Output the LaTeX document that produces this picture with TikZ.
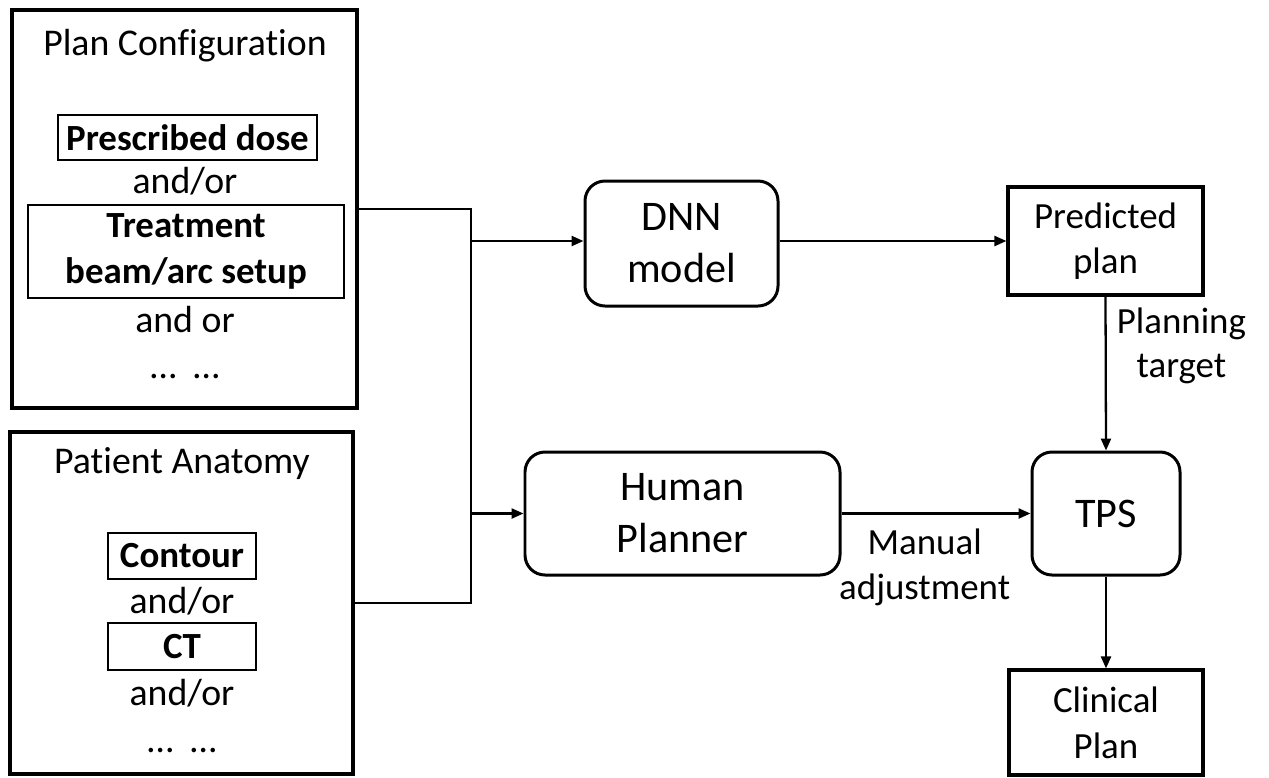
\documentclass[tikz,border=0pt]{standalone}
\usepackage{fontspec}
\setmainfont{Carlito}[Ligatures=NoCommon]
\usetikzlibrary{positioning,arrows.meta}
\tikzstyle{groupbox} = [draw, line width=1.8pt, inner sep=0pt]
\tikzstyle{itembox}  = [draw, line width=1.2pt, inner sep=0pt, align=center, font=\fontsize{21}{26.5}\selectfont\bfseries]
\tikzstyle{txt}      = [inner sep=0pt, anchor=base, font=\fontsize{21.5}{26}\selectfont]
\tikzstyle{roundbox} = [draw, rounded corners=4mm, line width=1.7pt, align=center, font=\fontsize{24}{29.5}\selectfont]
\tikzstyle{plainbox} = [draw, line width=1.8pt, align=center, font=\fontsize{21}{26}\selectfont]
\tikzstyle{lbl}      = [align=center, font=\fontsize{21}{25.5}\selectfont]
\tikzstyle{wire}     = [line width=1.3pt]
\tikzstyle{arrow}    = [line width=1.3pt,-{Triangle[length=2.4mm,width=2mm]}]

\begin{document}
\begin{tikzpicture}[x=0.2mm,y=-0.2mm]
        \useasboundingbox (0,0) rectangle (1269,777);

        % plan configuration
        \node[groupbox, minimum width=69mm, minimum height=79.6mm] (plan) at (184.5,209) {};
        \node[txt] (plantitle) at (185,55) {Plan Configuration};
        \node[itembox, minimum width=51.8mm, minimum height=9mm] (dose) at (187.5,137.5) {Prescribed dose};
        \node[txt] (or1) at (185,193) {and/or};
        \node[itembox, minimum width=63.2mm, minimum height=18.6mm] (beam) at (186,251.5) {Treatment\\beam/arc setup};
        \node[txt] (or2) at (185,332) {and or};
        \node[txt] (dots1) at (185,378) {…\hspace{0.45em}…};

        % patient anatomy
        \node[groupbox, minimum width=68.6mm, minimum height=68.4mm] (patient) at (181.5,603) {};
        \node[txt] (pattitle) at (182,473) {Patient Anatomy};
        \node[itembox, minimum width=29.6mm, minimum height=9.2mm] (contour) at (182,556) {Contour};
        \node[txt] (or3) at (182,613) {and/or};
        \node[itembox, minimum width=29.6mm, minimum height=9.4mm] (ct) at (182,646.5) {CT};
        \node[txt] (or4) at (182,705) {and/or};
        \node[txt] (dots2) at (182,752) {…\hspace{0.45em}…};

        % planning
        \node[roundbox, minimum width=38.6mm, minimum height=25mm] (dnn) at (681.5,243.5) {DNN\\model};
        \node[roundbox, minimum width=63mm, minimum height=24.6mm] (human) at (682.5,513.5) {Human\\Planner};
        \node[plainbox, minimum width=39mm, minimum height=21.6mm] (pred) at (1105.5,241) {Predicted\\plan};
        \node[roundbox, minimum width=29.6mm, minimum height=24.6mm] (tps) at (1106,513.5) {TPS};
        \node[plainbox, minimum width=38.8mm, minimum height=21mm] (clin) at (1106,722.5) {Clinical\\Plan};

        \coordinate (bustop) at (471,209);
        \coordinate (busbot) at (471,603);

        \draw[wire] (plan.east) -- (bustop) -- (busbot) -- (patient.east);
        \draw[arrow] (bustop |- pred.west) -- (dnn.west |- pred.west);
        \draw[arrow] (bustop |- human.west) -- (human.west);
        \draw[arrow] (dnn.east |- pred.west) -- (pred.west);
        \draw[arrow] (human.east) -- node[lbl, below=1.7mm, pos=0.44] {Manual\\adjustment} (tps.west);
        \draw[arrow] (pred.south) -- node[lbl, right, pos=0.32, inner sep=2mm] {Planning\\target} (tps.north);
        \draw[arrow] (tps.south) -- (clin.north);
    \end{tikzpicture}
\end{document}
